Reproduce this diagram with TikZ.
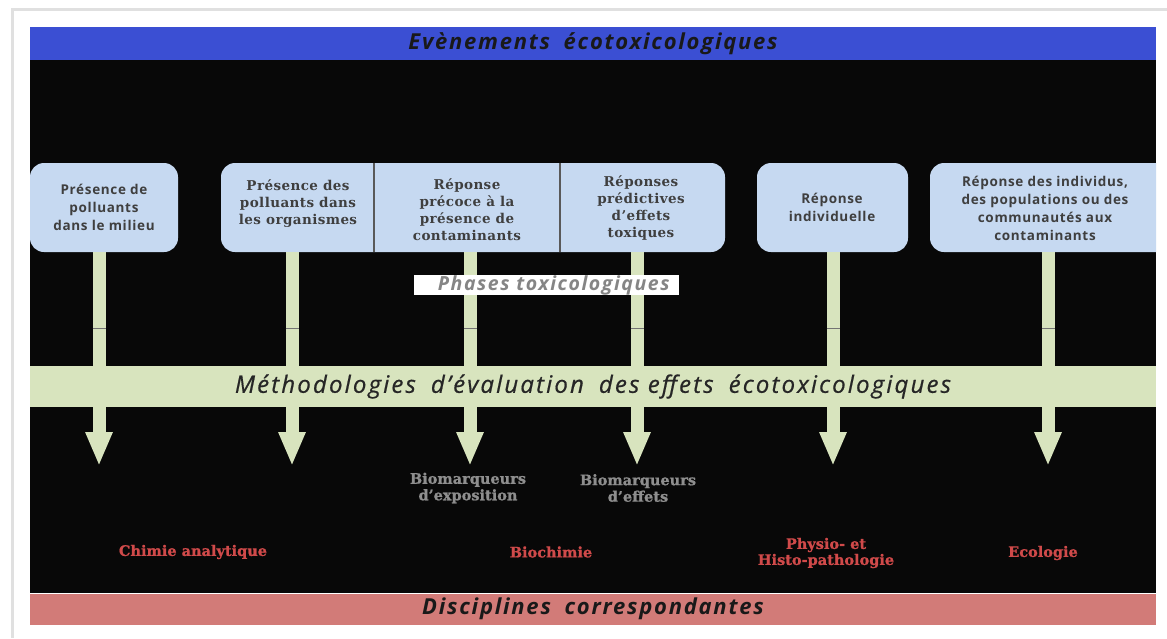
\documentclass[tikz,border=0pt]{standalone}
\usepackage{fontspec}
\setmainfont{Liberation Serif}
\newfontfamily\osans{Open Sans}
\newfontfamily\osanstrack[LetterSpace=8]{Open Sans}
\newfontfamily\osansmed[LetterSpace=9,FakeBold=0.6]{Open Sans}
\newfontfamily\osansbox[LetterSpace=5]{Open Sans}
\newfontfamily\dserif[LetterSpace=3]{DejaVu Serif}
\newfontfamily\dslab[FakeBold=1]{DejaVu Serif}
\usetikzlibrary{arrows.meta}
\definecolor{bandblue}{HTML}{3B4FD3}
\definecolor{bandpink}{HTML}{D27B78}
\definecolor{bandgreen}{HTML}{D8E4BE}
\definecolor{boxblue}{HTML}{C6D9F1}
\definecolor{boxtext}{HTML}{3F3F3F}
\definecolor{redtext}{HTML}{D04A4A}
\definecolor{graytext}{HTML}{8E8E8E}
\definecolor{nearblack}{HTML}{080808}
\tikzset{
  bandtitle/.style={font=\osanstrack\bfseries\itshape\fontsize{22}{24}\selectfont, text=black!90},
  sansbox/.style={font=\osansbox\bfseries\fontsize{13.5}{18}\selectfont, text=boxtext, align=center},
  serifbox/.style={font=\dserif\bfseries\fontsize{13.5}{17}\selectfont, text=boxtext, align=center},
  roundbox/.style={fill=boxblue, rounded corners=14pt},
  stem/.style={draw=bandgreen, line width=13pt},
  downarrow/.style={draw=bandgreen, line width=13pt, -{Triangle[length=34pt 0 0, width=25pt 0 0]}, bandgreen},
  biolabel/.style={font=\dslab\bfseries\fontsize{14.5}{16.5}\selectfont, text=graytext, align=center},
  disclabel/.style={font=\dslab\bfseries\fontsize{14.5}{16}\selectfont, text=redtext, align=center}
}
\begin{document}
\begin{tikzpicture}[x=1pt,y=-1pt]
\useasboundingbox (0,0) rectangle (1167,638);
\fill[white] (0,0) rectangle (1167,638);
% page shadow
\draw[black!12, line width=3pt] (12,638) -- (12,9) -- (1167,9);
% bands
\fill[nearblack] (30,60) rectangle (1156,593);
\node[fill=bandblue, minimum width=1126pt, minimum height=33pt, inner sep=0pt, bandtitle] (top) at (593,43.5) {Evènements\; écotoxicologiques};
\node[fill=bandpink, minimum width=1126pt, minimum height=31pt, inner sep=0pt, bandtitle] (bottom) at (593,609) {Disciplines\; correspondantes};
\node[fill=bandgreen, minimum width=1126pt, minimum height=41pt, inner sep=0pt, font=\osansmed\itshape\fontsize{24}{26}\selectfont, text=black!85] (meth) at (593,386.5) {Méthodologies\; d’évaluation\; des effets\; écotoxicologiques};

% boxes
\fill[roundbox] (30,163) rectangle (178,252);
\fill[roundbox] (221,163) rectangle (725,252);
\fill[roundbox] (757,163) rectangle (908,252);
\begin{scope}
\clip (30,0) rectangle (1156,638);
\fill[roundbox] (930,163) rectangle (1180,252);
\end{scope}
\draw[black!65, line width=1.3pt] (374,163) -- (374,252);
\draw[black!65, line width=1.3pt] (560,163) -- (560,252);

\node[sansbox] (b1) at (104,207.5) {Présence de\\polluants\\dans le milieu};
\node[serifbox] (b2) at (298,203.5) {Présence des\\polluants dans\\les organismes};
\node[serifbox] (b3) at (467,209.5) {Réponse\\précoce à la\\présence de\\contaminants};
\node[serifbox] (b4) at (641,207.5) {Réponses\\prédictives\\d’effets\\toxiques};
\node[sansbox] (b5) at (832,207) {Réponse\\individuelle};
\node[sansbox] (b6) at (1045,208) {Réponse des individus,\\des populations ou des\\communautés aux\\contaminants};

% column coordinates
\foreach \n/\x in {1/99,2/292,3/470,4/637,5/833,6/1048}{
  \coordinate (s\n) at (\x,252);
  \coordinate (e\n) at (\x,466);
}
% stems
\foreach \n in {1,...,6}{
  \draw[stem] (s\n) -- (s\n|-meth.north);
  \draw[black!55, line width=1pt] ([xshift=-6.5pt]s\n|-0,328) -- ([xshift=6.5pt]s\n|-0,328);
  \draw[downarrow] (s\n|-meth.south) -- (e\n);
}

% phases label
\node[fill=white, minimum width=265pt, minimum height=18pt, inner sep=0pt, font=\osanstrack\bfseries\itshape\fontsize{19.5}{18}\selectfont, text=black!48, anchor=west] (phases) at (414,285) {\hspace*{14pt}Phases toxicologiques};

% biomarkers
\node[biolabel] (bm1) at (468,488) {Biomarqueurs\\d’exposition};
\node[biolabel] (bm2) at (638,488) {Biomarqueurs\\d’effets};

% disciplines
\node[disclabel] (d1) at (193,552) {Chimie analytique};
\node[disclabel] (d2) at (551,552) {Biochimie};
\node[disclabel] (d3) at (826,553) {Physio- et\\Histo-pathologie};
\node[disclabel] (d4) at (1043,553) {Ecologie};
\end{tikzpicture}
\end{document}
